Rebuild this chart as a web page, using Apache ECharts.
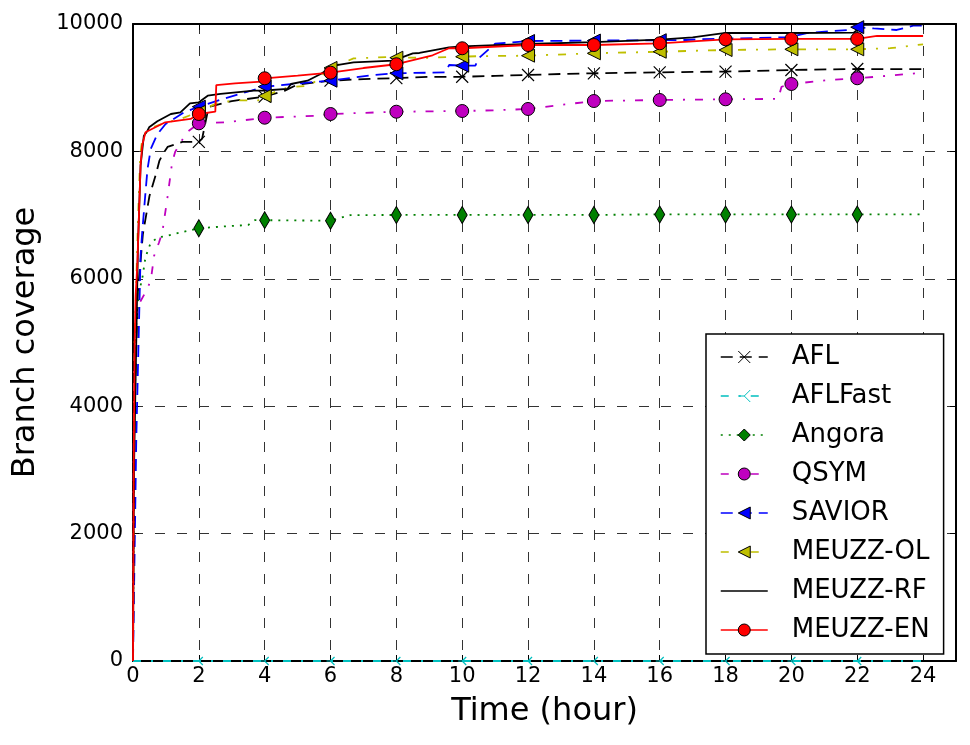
<!DOCTYPE html>
<html><head><meta charset="utf-8">
<script src="https://cdn.jsdelivr.net/npm/echarts@6/dist/echarts.min.js"></script>
<style>html,body{margin:0;padding:0;background:#fff}#c{width:970px;height:745px}</style>
</head><body><div id="c"></div>
<script>
// ---- data (time in hours, branch coverage) ----
const xTickLabels = [0,2,4,6,8,10,12,14,16,18,20,22,24];
const yTickLabels = [0,2000,4000,6000,8000,10000];
const markerHours = [2,4,6,8,10,12,14,16,18,20,22];

const aflT = [0,0.05,0.15,0.3,0.5,0.7,0.8,0.9,1.05,1.5,2,2.1,2.3,3,4,4.6,5,6,7,8,9,10,11,12,13,14,16,18,20,22,24];
const aflV = [0,4000,5800,6700,7300,7650,7850,7950,8070,8150,8150,8200,8700,8790,8860,8950,9050,9110,9135,9150,9170,9172,9185,9200,9215,9226,9241,9253,9278,9294,9290];

const aflfastT = [0,2,4,6,8,10,12,14,16,18,20,22,24];
const aflfastV = [0,0,0,0,0,0,0,0,0,0,0,0,0];

const angoraT = [0,0.03,0.1,0.18,0.28,0.38,0.54,0.77,1.07,1.47,2,2.7,3.5,3.7,4,6,6.6,8,10,12,14,15.5,16,18,20,22,24];
const angoraV = [0,3500,5300,5790,6000,6340,6570,6650,6680,6730,6793,6820,6845,6920,6920,6912,7000,7002,7002,7002,7002,7010,7010,7010,7010,7010,7010];

const qsymT = [0,0.03,0.1,0.2,0.38,0.54,0.64,0.79,0.89,1.04,1.19,1.28,1.63,2,2.9,4,5.6,6,8,10,11,12,13.5,14,16,18,19.6,19.7,20,21.1,22,22.6,24];
const qsymV = [0,4500,5420,5620,5790,5970,6360,6570,6730,7250,7830,7990,8300,8441,8460,8529,8560,8587,8623,8634,8645,8666,8760,8791,8807,8818,8825,9015,9058,9120,9148,9173,9236];

const saviorT = [0,0.1,0.2,0.23,0.28,0.38,0.44,0.54,0.74,0.99,1.54,2,2.8,4,5.6,6,7.3,8,9.5,9.6,10,10.4,10.5,11,12,14,16,16.8,17.2,19.9,20.5,21.7,22,22.5,23.2,23.7,24];
const saviorV = [0,3500,5700,6360,6730,7360,7720,8040,8270,8430,8610,8702,8833,9016,9094,9110,9199,9226,9241,9356,9346,9346,9462,9690,9733,9740,9745,9749,9760,9792,9860,9906,9950,9930,9906,9974,9974];

const meuzzOlT = [0,0.05,0.15,0.22,0.3,0.6,1.0,1.5,2,2.6,3.2,3.8,4,4.4,4.7,5.3,5.5,6,6.7,7.7,8,9,10,10.5,12,14,16,18,20,22,23,24];
const meuzzOlV = [0,5000,6900,7950,8250,8380,8450,8520,8620,8770,8800,8800,8870,8950,9005,9030,9085,9310,9460,9480,9471,9470,9487,9495,9503,9540,9565,9592,9603,9603,9620,9681];

const meuzzRfT = [0,0.03,0.15,0.23,0.33,0.44,0.49,0.74,1.15,1.44,1.73,2,2.27,2.66,3.67,4,4.69,4.8,5.3,5.7,6.1,6.7,7.9,8.5,8.7,9.6,10,12,14,16,17,18,20,21.9,22.2,24];
const meuzzRfV = [0,3000,6500,7776,8247,8325,8378,8473,8587,8614,8755,8771,8875,8902,8953,8956,8980,9058,9110,9215,9346,9398,9424,9540,9545,9634,9650,9686,9716,9754,9790,9859,9859,9866,9985,9995];

const meuzzEnT = [0,0.02,0.05,0.08,0.13,0.18,0.23,0.28,0.38,0.98,1.75,2,2.5,2.53,3.1,3.9,4,5,6,7,8,8.1,9.1,9.6,10,12,14,16,18,20,22,22.6,24];
const meuzzEnV = [0,3000,5000,5735,6206,6991,7776,8100,8300,8457,8509,8587,8623,9042,9069,9095,9148,9190,9236,9309,9368,9380,9509,9619,9619,9670,9670,9697,9760,9765,9765,9812,9812];

// ---- build ----
const FONT = 'DejaVu Sans';
const markSet = new Set(markerHours);
function pts(ts, vs){
  return ts.map((t,i)=> markSet.has(t) ? {value:[t,vs[i]]} : {value:[t,vs[i]], symbol:'none'});
}
function mk(name, ts, vs, lineColor, lineType, symbol, size, itemStyle){
  return {
    name, type:'line', data: pts(ts, vs),
    showSymbol:true, showAllSymbol:true, symbol, symbolSize:size,
    lineStyle:{color:lineColor, width:1.8, type:lineType},
    itemStyle, emphasis:{disabled:true}, animation:false, z:3
  };
}
const xPath = 'path://M0,0L10,10M0,10L10,0';
const triLeftPath = 'path://M0,5L5,5M5,5L10,0M5,5L10,10';
const leftTri = 'path://M0,5L10,0L10,10Z';
const dashed = [12,7], dashdot = [8,10,2,10], dotted = [2,6];

const series = [
  mk('AFL', aflT, aflV, '#000', dashed, xPath, 12, {color:'rgba(0,0,0,0)', borderColor:'#000', borderWidth:1.2}),
  mk('AFLFast', aflfastT, aflfastV, '#00bfbf', dashdot, triLeftPath, 8, {color:'rgba(0,0,0,0)', borderColor:'#00bfbf', borderWidth:1.2}),
  mk('Angora', angoraT, angoraV, '#008000', dotted, 'diamond', [10,17], {color:'#008000', borderColor:'#000', borderWidth:1}),
  mk('QSYM', qsymT, qsymV, '#bf00bf', dashdot, 'circle', 13, {color:'#bf00bf', borderColor:'#000', borderWidth:1}),
  mk('SAVIOR', saviorT, saviorV, '#0000ff', dashed, leftTri, 13, {color:'#0000ff', borderColor:'#000', borderWidth:1}),
  mk('MEUZZ-OL', meuzzOlT, meuzzOlV, '#bfbf00', dashdot, leftTri, 13, {color:'#bfbf00', borderColor:'#000', borderWidth:1}),
  mk('MEUZZ-RF', meuzzRfT, meuzzRfV, '#000', 'solid', 'circle', 1, {color:'rgba(0,0,0,0)', borderColor:'rgba(0,0,0,0)', borderWidth:0}),
  mk('MEUZZ-EN', meuzzEnT, meuzzEnV, '#ff0000', 'solid', 'circle', 13, {color:'#ff0000', borderColor:'#000', borderWidth:1})
];

const gridLine = {show:true, lineStyle:{color:'#333', width:1, type:[10,12]}};
const axisLineStyle = {show:true, onZero:false, lineStyle:{color:'#000', width:2}};
const tick = {show:true, inside:true, length:6, lineStyle:{color:'#000', width:1}};

const chart = echarts.init(document.getElementById('c'), null, {renderer:'canvas'});
chart.setOption({
  animation:false,
  backgroundColor:'#fff',
  grid:{left:133, right:14, top:24, bottom:84, containLabel:false},
  xAxis:[{
    type:'value', min:0, max:25, interval:2,
    name:'Time (hour)', nameLocation:'middle', nameGap:35,
    nameTextStyle:{fontFamily:FONT, fontSize:32, color:'#000'},
    axisLine:axisLineStyle, axisTick:tick, splitLine:gridLine,
    axisLabel:{fontFamily:FONT, fontSize:21, color:'#000', margin:5,
      formatter:v => xTickLabels.includes(v) ? String(v) : ''}
  },{
    type:'value', position:'top', min:0, max:25, interval:2,
    axisLine:axisLineStyle, axisTick:tick, splitLine:{show:false}, axisLabel:{show:false}
  }],
  yAxis:[{
    type:'value', min:0, max:10000, interval:2000,
    name:'Branch coverage', nameLocation:'middle', nameGap:91, nameRotate:90,
    nameTextStyle:{fontFamily:FONT, fontSize:32, color:'#000'},
    axisLine:axisLineStyle, axisTick:tick, splitLine:gridLine,
    axisLabel:{fontFamily:FONT, fontSize:21, color:'#000', margin:10,
      formatter:v => yTickLabels.includes(v) ? String(v) : ''}
  },{
    type:'value', position:'right', min:0, max:10000, interval:2000,
    axisLine:axisLineStyle, axisTick:tick, splitLine:{show:false}, axisLabel:{show:false}
  }],
  legend:{
    orient:'vertical', left:706, top:334,
    backgroundColor:'#fff', borderColor:'#000', borderWidth:1.5, borderRadius:0,
    padding:[10,14,11,14], itemGap:13, itemWidth:47, itemHeight:15,
    itemStyle:{borderWidth:1},
    lineStyle:{width:1.5},
    textStyle:{fontFamily:FONT, fontSize:26, color:'#000', lineHeight:25, padding:[0,0,0,19]},
    data: series.map(s=>s.name)
  },
  series
});
</script></body></html>
